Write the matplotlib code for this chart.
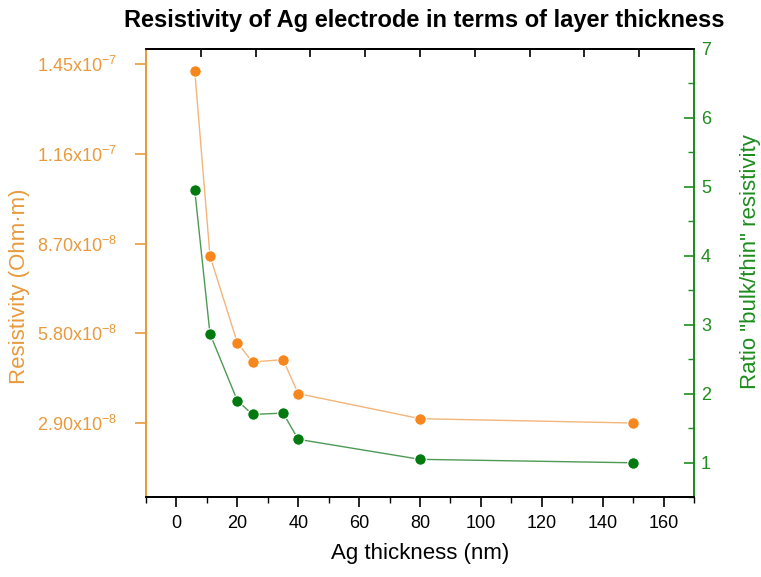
import matplotlib
matplotlib.use("Agg")
import matplotlib.pyplot as plt
from matplotlib.ticker import MultipleLocator, FixedLocator

plt.rcParams['font.family'] = ['Liberation Sans', 'DejaVu Sans']
plt.rcParams['mathtext.fontset'] = 'custom'
plt.rcParams['mathtext.rm'] = 'Liberation Sans'
plt.rcParams['mathtext.default'] = 'regular'

# ---- data ----
thickness_nm = [6, 11, 20, 25, 35, 40, 80, 150]
resistivity = [1.428e-7, 8.30e-8, 5.49e-8, 4.87e-8, 4.95e-8, 3.85e-8, 3.04e-8, 2.90e-8]
ratio = [4.95, 2.87, 1.90, 1.70, 1.72, 1.34, 1.05, 1.00]

left_ticks = [2.90e-8, 5.80e-8, 8.70e-8, 1.16e-7, 1.45e-7]
left_ticklabels = [r'2.90x10$^{-8}$', r'5.80x10$^{-8}$', r'8.70x10$^{-8}$',
                   r'1.16x10$^{-7}$', r'1.45x10$^{-7}$']
right_ticks = [1, 2, 3, 4, 5, 6, 7]
x_ticks = [0, 20, 40, 60, 80, 100, 120, 140, 160]

title = "Resistivity of Ag electrode in terms of layer thickness"
xlabel = "Ag thickness (nm)"
ylabel_left = "Resistivity (Ohm\u00b7m)"
ylabel_right = 'Ratio "bulk/thin" resistivity'

# ---- style ----
ORANGE = '#F7861C'
ORANGE_AX = '#E89A3C'
ORANGE_LINE = '#F2B57A'
GREEN = '#037A0F'
GREEN_AX = '#1E8C1E'
GREEN_LINE = '#4E9A55'

fig = plt.figure(figsize=(7.61, 5.77), dpi=100)
ax = fig.add_axes([0.1919, 0.1381, 0.9120 - 0.1919, 0.9159 - 0.1381])
ax2 = ax.twinx()

ax2.plot(thickness_nm, ratio, '-', color=GREEN_LINE, lw=1.0, zorder=2)
ax2.plot(thickness_nm, ratio, 'o', color=GREEN, ms=8.3, mec='white', mew=0.8, zorder=3, ls='none')
ax.plot(thickness_nm, resistivity, '-', color=ORANGE_LINE, lw=1.0, zorder=2)
ax.plot(thickness_nm, resistivity, 'o', color=ORANGE, ms=8.3, mec='white', mew=0.8, zorder=3, ls='none')
ax.set_zorder(ax2.get_zorder() + 1)
ax.patch.set_visible(False)

ax.set_xlim(-10, 170)
ax.set_ylim(0.5e-8, 1.5e-7)
ax2.set_ylim(0.5, 7)

# x axis
ax.set_xticks(x_ticks)
ax.xaxis.set_minor_locator(MultipleLocator(10))
ax.tick_params(axis='x', which='major', direction='out', length=7, width=1.2,
               labelsize=13, pad=6, colors='black', top=False)
ax.tick_params(axis='x', which='minor', direction='out', length=4, width=1.0, top=False)
ax.set_xlabel(xlabel, fontsize=16, labelpad=8)

# left axis
ax.set_yticks(left_ticks)
ax.set_yticklabels(left_ticklabels)
ax.yaxis.set_minor_locator(FixedLocator([]))
ax.tick_params(axis='y', which='major', direction='out', length=8, width=1.2,
               labelsize=13, pad=13, colors=ORANGE_AX)
ax.set_ylabel(ylabel_left, fontsize=16, color=ORANGE_AX)
ax.yaxis.set_label_coords(-0.211, 0.47)

# right axis
ax2.set_yticks(right_ticks)
ax2.yaxis.set_minor_locator(MultipleLocator(0.5))
ax2.tick_params(axis='y', which='major', direction='in', length=7, width=1.2,
                labelsize=13, pad=5, colors=GREEN_AX)
ax2.tick_params(axis='y', which='minor', direction='in', length=4, width=1.0, colors=GREEN_AX)
ax2.set_ylabel(ylabel_right, fontsize=16, color=GREEN_AX)
ax2.yaxis.set_label_coords(1.083, 0.525)

# top axis ticks (inward, no labels)
sec = ax.secondary_xaxis('top', functions=(lambda x: (x + 10) * 200 / 180,
                                           lambda t: t * 180 / 200 - 10))
sec.set_xticks([20, 40, 60, 80, 100, 120, 140, 160, 180])
sec.tick_params(axis='x', direction='in', length=6, width=1.2, labeltop=False)
sec.spines['top'].set_linewidth(1.3)

for a in (ax, ax2):
    for s in a.spines.values():
        s.set_linewidth(1.3)
    a.spines['left'].set_color(ORANGE_AX)
    a.spines['right'].set_color(GREEN_AX)
    a.spines['bottom'].set_color('black')
    a.spines['top'].set_color('black')

fig.text(0.557, 0.965, title, fontsize=17, fontweight='bold', ha='center', va='center')

fig.savefig('out.png', dpi=100)
